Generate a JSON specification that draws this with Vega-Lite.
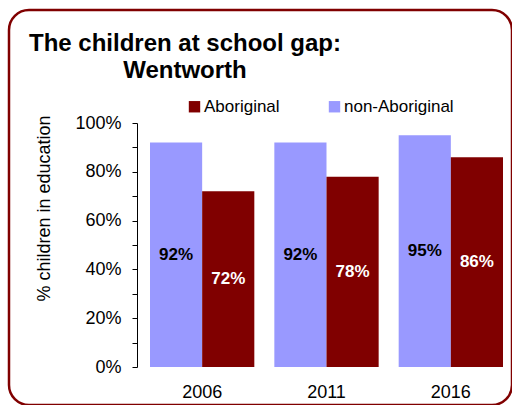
{
  "$schema": "https://vega.github.io/schema/vega-lite/v6.json",
  "width": 503,
  "height": 395,
  "autosize": {"type": "none"},
  "padding": {"left": 9, "top": 10, "right": 0, "bottom": 0},
  "background": "white",
  "config": {
    "font": "Liberation Sans",
    "view": {"stroke": "#800000", "strokeWidth": 2.5, "cornerRadius": 20, "fill": "white"}
  },
  "title": {
    "text": ["The children at school gap:", "Wentworth"],
    "fontSize": 24,
    "fontWeight": "bold",
    "color": "black",
    "frame": "group",
    "anchor": "start",
    "align": "center",
    "dx": 176,
    "offset": -73,
    "lineHeight": 27
  },
  "data": {
    "values": [
      {"year": "2006", "group": "non-Aboriginal", "value": 0.92},
      {"year": "2006", "group": "Aboriginal", "value": 0.72},
      {"year": "2011", "group": "non-Aboriginal", "value": 0.92},
      {"year": "2011", "group": "Aboriginal", "value": 0.78},
      {"year": "2016", "group": "non-Aboriginal", "value": 0.95},
      {"year": "2016", "group": "Aboriginal", "value": 0.86}
    ]
  },
  "layer": [
    {
      "mark": {"type": "bar"},
      "encoding": {
        "x": {
          "field": "year",
          "type": "nominal",
          "scale": {"range": [141, 494], "paddingInner": 0.161, "paddingOuter": 0},
          "axis": {
            "title": null,
            "domain": false,
            "ticks": false,
            "labelFontSize": 18,
            "labelColor": "black",
            "labelPadding": 0,
            "labelAngle": 0,
            "offset": -22
          }
        },
        "xOffset": {
          "field": "group",
          "type": "nominal",
          "scale": {"domain": ["non-Aboriginal", "Aboriginal"], "paddingInner": 0, "paddingOuter": 0}
        },
        "y": {
          "field": "value",
          "type": "quantitative",
          "scale": {"domain": [0, 1], "range": [357, 113], "nice": false},
          "axis": {
            "values": [0, 0.1, 0.2, 0.3, 0.4, 0.5, 0.6, 0.7, 0.8, 0.9, 1],
            "format": ".0%",
            "labelExpr": "round(datum.value * 100) % 20 === 0 ? datum.label : ''",
            "labelOverlap": false,
            "labelFlush": false,
            "offset": -128,
            "grid": false,
            "domainColor": "black",
            "domainWidth": 1,
            "tickColor": "black",
            "tickSize": 5,
            "labelFontSize": 18,
            "labelColor": "black",
            "labelPadding": 11,
            "title": "% children in education",
            "titleFontSize": 18,
            "titleFontWeight": "normal",
            "titleColor": "black",
            "titleX": -88,
            "titleY": 198,
            "titleAngle": -90,
            "titleAlign": "center",
            "titleBaseline": "alphabetic"
          }
        },
        "color": {
          "field": "group",
          "type": "nominal",
          "scale": {"domain": ["Aboriginal", "non-Aboriginal"], "range": ["#800000", "#9999FF"]},
          "legend": {
            "orient": "none",
            "legendX": 177,
            "legendY": 88,
            "direction": "horizontal",
            "title": null,
            "symbolType": "square",
            "symbolSize": 130,
            "symbolStrokeWidth": 0,
            "symbolOpacity": 1,
            "labelFontSize": 17,
            "labelColor": "black",
            "labelOffset": 1,
            "columnPadding": 46,
            "padding": 0
          }
        }
      }
    },
    {
      "mark": {"type": "text", "fontSize": 17, "fontWeight": "bold", "baseline": "middle"},
      "encoding": {
        "x": {"field": "year", "type": "nominal"},
        "xOffset": {"field": "group", "type": "nominal"},
        "y": {
          "field": "value",
          "type": "quantitative",
          "scale": {"domain": [0, 2], "range": [357, 113], "nice": false},
          "axis": null
        },
        "text": {"field": "value", "type": "quantitative", "format": ".0%"},
        "color": {"condition": {"test": "datum.group === 'Aboriginal'", "value": "white"}, "value": "black"}
      }
    }
  ],
  "resolve": {"scale": {"y": "independent"}}
}
